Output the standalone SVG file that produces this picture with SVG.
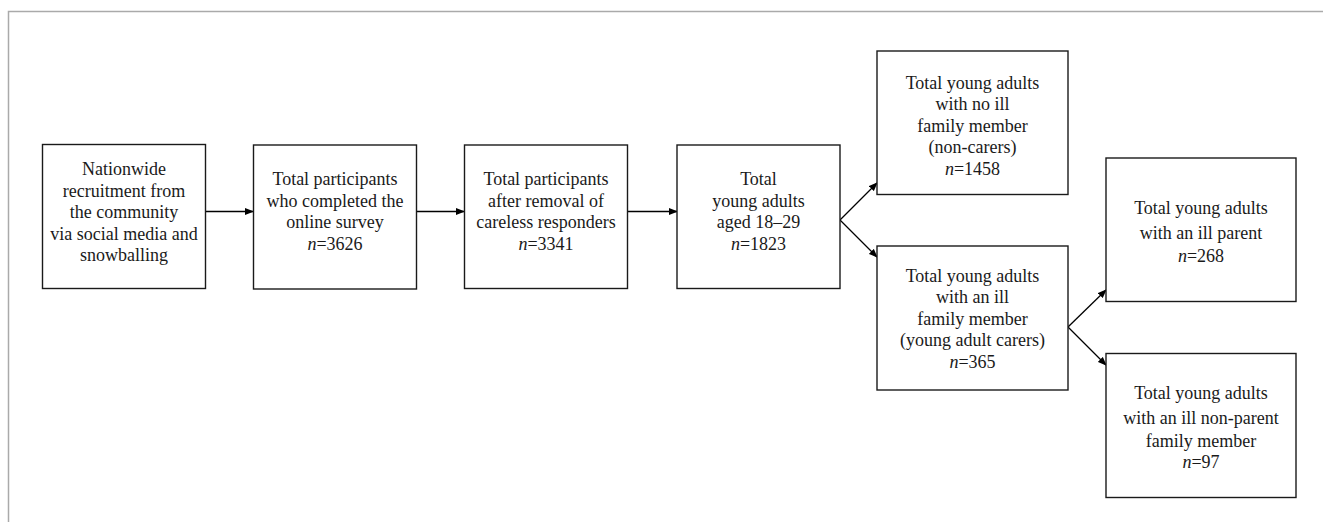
<svg xmlns="http://www.w3.org/2000/svg" width="1323" height="522" viewBox="0 0 1323 522">
<style>
.box{fill:#fff;stroke:#1a1a1a;stroke-width:1.4}
.t{font-family:"Liberation Serif","Times New Roman",serif;font-size:18px;fill:#1a1a1a;text-anchor:middle}
.c{fill:none;stroke:#000;stroke-width:1.3}
</style>
<defs>
<marker id="ah" markerWidth="9" markerHeight="8" refX="8" refY="4" orient="auto" markerUnits="userSpaceOnUse">
<path d="M0,0.5 L9,4 L0,7.5 Z" fill="#000"/>
</marker>
</defs>
<rect width="1323" height="522" fill="#fff"/>
<path d="M8.5,522 L8.5,11.5 L1323,11.5" fill="none" stroke="#aaa" stroke-width="1.5"/>
<g id="connectors">
<line class="c" x1="206" y1="211.5" x2="253" y2="211.5" marker-end="url(#ah)"/>
<line class="c" x1="417" y1="211.5" x2="464" y2="211.5" marker-end="url(#ah)"/>
<line class="c" x1="628" y1="211.5" x2="677" y2="211.5" marker-end="url(#ah)"/>
<line class="c" x1="840" y1="220" x2="877" y2="183" marker-end="url(#ah)"/>
<line class="c" x1="840" y1="220" x2="877" y2="257" marker-end="url(#ah)"/>
<line class="c" x1="1068" y1="327" x2="1106" y2="290" marker-end="url(#ah)"/>
<line class="c" x1="1068" y1="327" x2="1106" y2="365" marker-end="url(#ah)"/>
</g>
<g id="n1">
<rect class="box" x="42.5" y="144.5" width="163" height="144"/>
<text class="t" x="124" y="175">Nationwide</text>
<text class="t" x="124" y="196.5">recruitment from</text>
<text class="t" x="124" y="218">the community</text>
<text class="t" x="124" y="239.5">via social media and</text>
<text class="t" x="124" y="261">snowballing</text>
</g>
<g id="n2">
<rect class="box" x="253.5" y="145" width="163" height="144"/>
<text class="t" x="335" y="185">Total participants</text>
<text class="t" x="335" y="206.5">who completed the</text>
<text class="t" x="335" y="228">online survey</text>
<text class="t" x="335" y="249.5"><tspan font-style="italic">n</tspan>=3626</text>
</g>
<g id="n3">
<rect class="box" x="464.5" y="145" width="163" height="143.5"/>
<text class="t" x="546" y="185">Total participants</text>
<text class="t" x="546" y="206.5">after removal of</text>
<text class="t" x="546" y="228">careless responders</text>
<text class="t" x="546" y="249.5"><tspan font-style="italic">n</tspan>=3341</text>
</g>
<g id="n4">
<rect class="box" x="677" y="145" width="163" height="143.5"/>
<text class="t" x="758.5" y="185">Total</text>
<text class="t" x="758.5" y="206.5">young adults</text>
<text class="t" x="758.5" y="228">aged 18–29</text>
<text class="t" x="758.5" y="249.5"><tspan font-style="italic">n</tspan>=1823</text>
</g>
<g id="n5">
<rect class="box" x="877" y="51" width="191" height="143.5"/>
<text class="t" x="972.5" y="88.5">Total young adults</text>
<text class="t" x="972.5" y="110">with no ill</text>
<text class="t" x="972.5" y="131.5">family member</text>
<text class="t" x="972.5" y="153">(non-carers)</text>
<text class="t" x="972.5" y="174.5"><tspan font-style="italic">n</tspan>=1458</text>
</g>
<g id="n6">
<rect class="box" x="1106" y="158" width="190" height="143.5"/>
<text class="t" x="1201" y="214">Total young adults</text>
<text class="t" x="1201" y="239">with an ill parent</text>
<text class="t" x="1201" y="261.5"><tspan font-style="italic">n</tspan>=268</text>
</g>
<g id="n7">
<rect class="box" x="877" y="246" width="191" height="144"/>
<text class="t" x="972.5" y="281.5">Total young adults</text>
<text class="t" x="972.5" y="303">with an ill</text>
<text class="t" x="972.5" y="324.5">family member</text>
<text class="t" x="972.5" y="346">(young adult carers)</text>
<text class="t" x="972.5" y="367.5"><tspan font-style="italic">n</tspan>=365</text>
</g>
<g id="n8">
<rect class="box" x="1106" y="353.5" width="190" height="144"/>
<text class="t" x="1201" y="399">Total young adults</text>
<text class="t" x="1201" y="424">with an ill non-parent</text>
<text class="t" x="1201" y="446.5">family member</text>
<text class="t" x="1201" y="468"><tspan font-style="italic">n</tspan>=97</text>
</g>
</svg>
